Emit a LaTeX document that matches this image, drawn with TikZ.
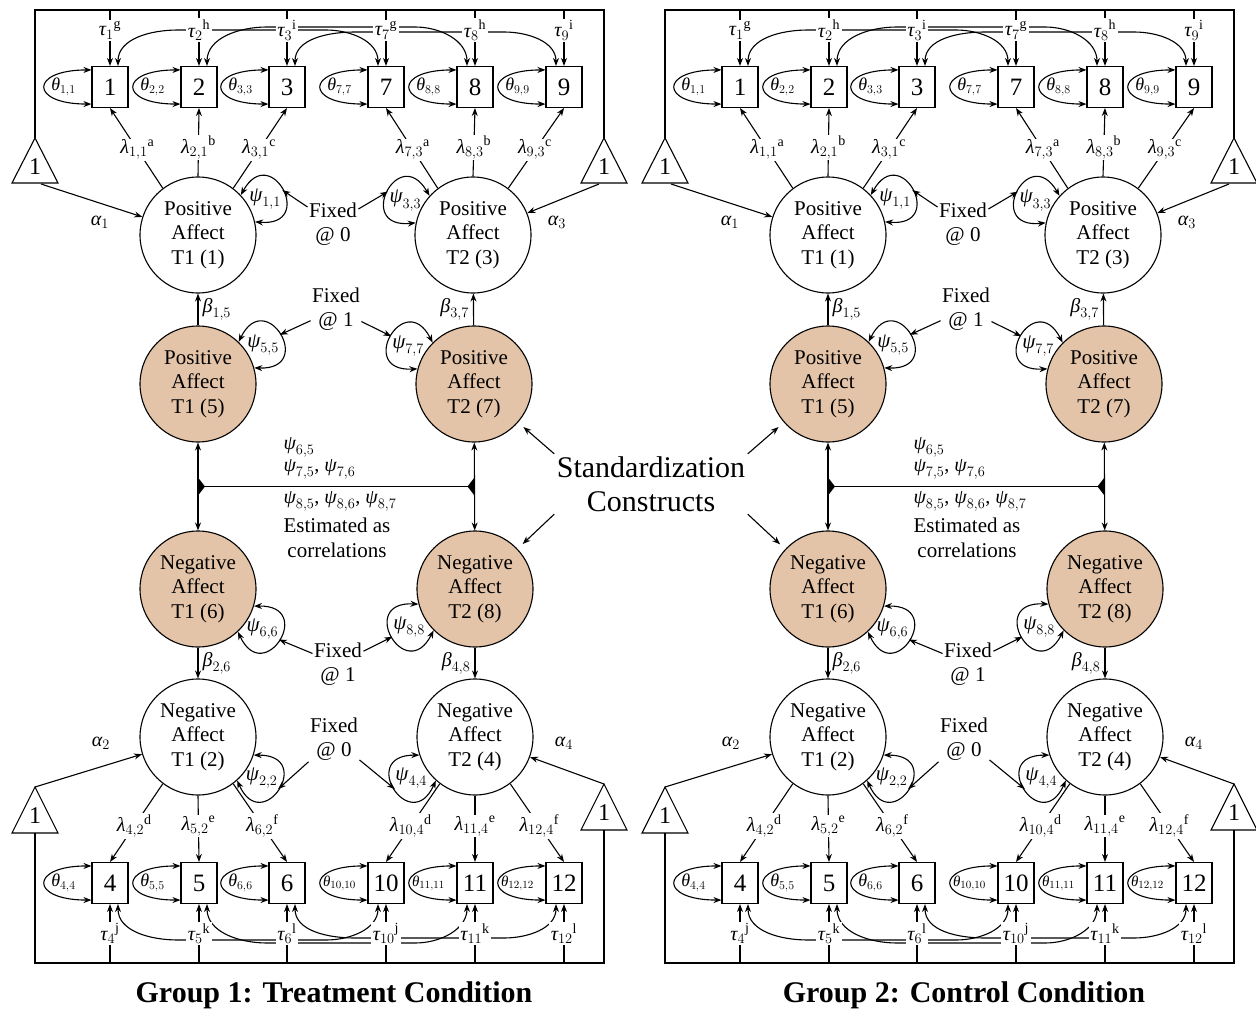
\documentclass[tikz,border=0pt]{standalone}
\usepackage{fontspec}
\setmainfont{Liberation Serif}
\usetikzlibrary{arrows.meta}
\definecolor{tanfill}{RGB}{228,196,168}
\newcommand\gk[1]{\mbox{\itshape #1}}
\tikzset{
  lat/.style={circle,draw,minimum size=116pt,inner sep=0pt,align=center,font=\fontsize{21}{24.5}\selectfont},
  ind/.style={draw,fill=white,minimum width=36pt,minimum height=41pt,inner sep=0pt,font=\fontsize{25}{25}\selectfont},
  lab/.style={inner sep=1pt,font=\fontsize{20}{20}\selectfont},
  wlab/.style={lab,fill=white},
  tau/.style={wlab,inner sep=1.5pt},
  thl/.style={inner sep=0pt,font=\fontsize{18}{18}\selectfont},
  thls/.style={inner sep=0pt,font=\fontsize{15}{15}\selectfont},
  psil/.style={inner sep=0pt,font=\fontsize{21}{21}\selectfont},
  fixtxt/.style={align=center,inner sep=1pt,font=\fontsize{21}{24.5}\selectfont},
  cor/.style={inner sep=1pt,font=\fontsize{20}{20}\selectfont},
  trinum/.style={inner sep=0pt,font=\fontsize{24}{24}\selectfont},
  grtitle/.style={font=\bfseries\fontsize{30}{30}\selectfont},
  stdtxt/.style={align=center,inner sep=2pt,font=\fontsize{30}{34}\selectfont},
}
% theta loop on the left of an indicator box
\newcommand\thloop[3][thl]{%
  \draw[<->] ([yshift=-4pt]#2.north west) .. controls +(-62,0) and +(-62,0) .. ([yshift=4pt]#2.south west);
  \node[#1] (#2th) at ([xshift=-28pt]#2.west) {#3};}
% psi loop on a latent circle
\newcommand\psiloop[4]{%
  \pgfmathtruncatemacro\plA{#2+15}\pgfmathtruncatemacro\plB{#2-15}%
  \pgfmathtruncatemacro\plC{#2+33}\pgfmathtruncatemacro\plD{#2-33}%
  \draw[<->] (#1.\plA) .. controls +(\plC:62) and +(\plD:62) .. (#1.\plB) coordinate[pos=0.5] (#4);
  \node[psil] (#4l) at ([shift={(#2:76)}]#1.center) {#3};}
\newcommand\sgroup[3]{%
\begin{scope}[xshift=#2]
  % latent variables
  \node[lat] (#1c1) at (198,-235) {Positive\\Affect\\T1 (1)};
  \node[lat] (#1c3) at (473,-235) {Positive\\Affect\\T2 (3)};
  \node[lat,fill=tanfill] (#1c5) at (198,-384) {Positive\\Affect\\T1 (5)};
  \node[lat,fill=tanfill] (#1c7) at (474,-384) {Positive\\Affect\\T2 (7)};
  \node[lat,fill=tanfill] (#1c6) at (198,-589) {Negative\\Affect\\T1 (6)};
  \node[lat,fill=tanfill] (#1c8) at (475,-589) {Negative\\Affect\\T2 (8)};
  \node[lat] (#1c2) at (198,-737) {Negative\\Affect\\T1 (2)};
  \node[lat] (#1c4) at (475,-737) {Negative\\Affect\\T2 (4)};
  % indicators
  \node[ind] (#1b1) at (110,-87) {1};
  \node[ind] (#1b2) at (199,-87) {2};
  \node[ind] (#1b3) at (287,-87) {3};
  \node[ind] (#1b7) at (386,-87) {7};
  \node[ind] (#1b8) at (475,-87) {8};
  \node[ind] (#1b9) at (564,-87) {9};
  \node[ind] (#1b4) at (110,-883) {4};
  \node[ind] (#1b5) at (199,-883) {5};
  \node[ind] (#1b6) at (287,-883) {6};
  \node[ind] (#1b10) at (386,-883) {10};
  \node[ind] (#1b11) at (475,-883) {11};
  \node[ind] (#1b12) at (564,-883) {12};
  % equality links between intercepts
  \draw[<->] ([xshift=8pt]#1b1.north) to[out=90,in=180] (178,-30) -- (326,-30) to[out=0,in=90] ([xshift=-8pt]#1b7.north);
  \draw[<->] ([xshift=8pt]#1b2.north) to[out=90,in=180] (267,-27) -- (415,-27) to[out=0,in=90] ([xshift=-8pt]#1b8.north);
  \draw[<->] ([xshift=8pt]#1b3.north) to[out=90,in=180] (355,-32) -- (504,-32) to[out=0,in=90] ([xshift=-8pt]#1b9.north);
  \draw[<->] ([xshift=8pt]#1b4.south) to[out=-90,in=180] (178,-940) -- (326,-940) to[out=0,in=-90] ([xshift=-8pt]#1b10.south);
  \draw[<->] ([xshift=8pt]#1b5.south) to[out=-90,in=180] (267,-943) -- (415,-943) to[out=0,in=-90] ([xshift=-8pt]#1b11.south);
  \draw[<->] ([xshift=8pt]#1b6.south) to[out=-90,in=180] (355,-938) -- (504,-938) to[out=0,in=-90] ([xshift=-8pt]#1b12.south);
  % frame and mean triangles
  \coordinate (#1tlA) at (35,-138);
  \coordinate (#1trA) at (604,-138);
  \coordinate (#1ftl) at (35,-10);
  \coordinate (#1ftr) at (604,-10);
  \draw (#1tlA) -- ++(-23,-45) -- ++(46,0) -- cycle;
  \node[trinum] (#1tri1) at (35,-167) {1};
  \draw (#1trA) -- ++(-23,-45) -- ++(46,0) -- cycle;
  \node[trinum] (#1tri3) at (604,-167) {1};
  \draw (#1tlA) -- (#1ftl) -- (#1ftr) -- (#1trA);
  \coordinate (#1blA) at (35,-787);
  \coordinate (#1brA) at (604,-784);
  \coordinate (#1blB) at (35,-833);
  \coordinate (#1brB) at (604,-830);
  \coordinate (#1fbl) at (35,-963);
  \coordinate (#1fbr) at (604,-963);
  \draw (#1blA) -- ++(-23,-46) -- ++(46,0) -- cycle;
  \node[trinum] (#1tri2) at (35,-816) {1};
  \draw (#1brA) -- ++(-23,-46) -- ++(46,0) -- cycle;
  \node[trinum] (#1tri4) at (604,-813) {1};
  \draw (#1blB) -- (#1fbl) -- (#1fbr) -- (#1brB);
  % intercepts
  \draw[->] (#1b1.north |- #1ftl) -- (#1b1.north) node[tau,pos=0.36] (#1t1) {$\gk{τ}_{1}{}^{\mathrm{g}}$};
  \draw[->] (#1b2.north |- #1ftl) -- (#1b2.north) node[tau,pos=0.36] (#1t2) {$\gk{τ}_{2}{}^{\mathrm{h}}$};
  \draw[->] (#1b3.north |- #1ftl) -- (#1b3.north) node[tau,pos=0.36] (#1t3) {$\gk{τ}_{3}{}^{\mathrm{i}}$};
  \draw[->] (#1b7.north |- #1ftl) -- (#1b7.north) node[tau,pos=0.36] (#1t7) {$\gk{τ}_{7}{}^{\mathrm{g}}$};
  \draw[->] (#1b8.north |- #1ftl) -- (#1b8.north) node[tau,pos=0.36] (#1t8) {$\gk{τ}_{8}{}^{\mathrm{h}}$};
  \draw[->] (#1b9.north |- #1ftl) -- (#1b9.north) node[tau,pos=0.36] (#1t9) {$\gk{τ}_{9}{}^{\mathrm{i}}$};
  \draw[->] (#1b4.south |- #1fbl) -- (#1b4.south) node[tau,pos=0.5] (#1t4) {$\gk{τ}_{4}{}^{\mathrm{j}}$};
  \draw[->] (#1b5.south |- #1fbl) -- (#1b5.south) node[tau,pos=0.5] (#1t5) {$\gk{τ}_{5}{}^{\mathrm{k}}$};
  \draw[->] (#1b6.south |- #1fbl) -- (#1b6.south) node[tau,pos=0.5] (#1t6) {$\gk{τ}_{6}{}^{\mathrm{l}}$};
  \draw[->] (#1b10.south |- #1fbl) -- (#1b10.south) node[tau,pos=0.5] (#1t10) {$\gk{τ}_{10}{}^{\mathrm{j}}$};
  \draw[->] (#1b11.south |- #1fbl) -- (#1b11.south) node[tau,pos=0.5] (#1t11) {$\gk{τ}_{11}{}^{\mathrm{k}}$};
  \draw[->] (#1b12.south |- #1fbl) -- (#1b12.south) node[tau,pos=0.5] (#1t12) {$\gk{τ}_{12}{}^{\mathrm{l}}$};
  % residual variances
  \thloop{#1b1}{$\gk{θ}_{1,1}$}
  \thloop{#1b2}{$\gk{θ}_{2,2}$}
  \thloop{#1b3}{$\gk{θ}_{3,3}$}
  \thloop{#1b7}{$\gk{θ}_{7,7}$}
  \thloop{#1b8}{$\gk{θ}_{8,8}$}
  \thloop{#1b9}{$\gk{θ}_{9,9}$}
  \thloop{#1b4}{$\gk{θ}_{4,4}$}
  \thloop{#1b5}{$\gk{θ}_{5,5}$}
  \thloop{#1b6}{$\gk{θ}_{6,6}$}
  \thloop[thls]{#1b10}{$\gk{θ}_{10,10}$}
  \thloop[thls]{#1b11}{$\gk{θ}_{11,11}$}
  \thloop[thls]{#1b12}{$\gk{θ}_{12,12}$}
  % loadings
  \draw[->] (#1c1.127) -- (#1b1.south) node[wlab,pos=0.48] (#1l1) {$\gk{λ}_{1,1}{}^{\mathrm{a}}$};
  \draw[->] (#1c1.north) -- (#1b2.south) node[wlab,pos=0.42] (#1l2) {$\gk{λ}_{2,1}{}^{\mathrm{b}}$};
  \draw[->] (#1c1.53) -- (#1b3.south) node[wlab,pos=0.48] (#1l3) {$\gk{λ}_{3,1}{}^{\mathrm{c}}$};
  \draw[->] (#1c3.127) -- (#1b7.south) node[wlab,pos=0.48] (#1l7) {$\gk{λ}_{7,3}{}^{\mathrm{a}}$};
  \draw[->] (#1c3.north) -- (#1b8.south) node[wlab,pos=0.42] (#1l8) {$\gk{λ}_{8,3}{}^{\mathrm{b}}$};
  \draw[->] (#1c3.53) -- (#1b9.south) node[wlab,pos=0.48] (#1l9) {$\gk{λ}_{9,3}{}^{\mathrm{c}}$};
  \draw[->] (#1c2.-127) -- (#1b4.north) node[wlab,pos=0.54] (#1l4) {$\gk{λ}_{4,2}{}^{\mathrm{d}}$};
  \draw[->] (#1c2.south) -- (#1b5.north) node[wlab,pos=0.46] (#1l5) {$\gk{λ}_{5,2}{}^{\mathrm{e}}$};
  \draw[->] (#1c2.-53) -- (#1b6.north) node[wlab,pos=0.54] (#1l6) {$\gk{λ}_{6,2}{}^{\mathrm{f}}$};
  \draw[->] (#1c4.-127) -- (#1b10.north) node[wlab,pos=0.54] (#1l10) {$\gk{λ}_{10,4}{}^{\mathrm{d}}$};
  \draw[->] (#1c4.south) -- (#1b11.north) node[wlab,pos=0.46] (#1l11) {$\gk{λ}_{11,4}{}^{\mathrm{e}}$};
  \draw[->] (#1c4.-53) -- (#1b12.north) node[wlab,pos=0.54] (#1l12) {$\gk{λ}_{12,4}{}^{\mathrm{f}}$};
  % means
  \coordinate (#1aS1) at (41,-184);
  \coordinate (#1aS3) at (599,-184);
  \draw[->] (#1aS1) -- (#1c1);
  \node[lab] (#1al1) at (100,-222) {$\gk{α}_1$};
  \draw[->] (#1aS3) -- (#1c3);
  \node[lab] (#1al3) at (557,-222) {$\gk{α}_3$};
  \draw[->] (#1blA) -- (#1c2);
  \node[lab] (#1al2) at (101,-743) {$\gk{α}_2$};
  \draw[->] (#1brA) -- (#1c4);
  \node[lab] (#1al4) at (564,-743) {$\gk{α}_4$};
  % regressions
  \draw[->] (#1c5) -- (#1c1) node[lab,pos=0.5,right=3pt] (#1be15) {$\gk{β}_{1,5}$};
  \draw[->] (#1c7) -- (#1c3) node[lab,pos=0.5,left=3pt] (#1be37) {$\gk{β}_{3,7}$};
  \draw[->] (#1c6) -- (#1c2) node[lab,pos=0.5,right=3pt] (#1be26) {$\gk{β}_{2,6}$};
  \draw[->] (#1c8) -- (#1c4) node[lab,pos=0.5,left=3pt] (#1be48) {$\gk{β}_{4,8}$};
  % latent variances
  \psiloop{#1c1}{28}{$\gk{ψ}_{1,1}$}{#1p1}
  \psiloop{#1c3}{153}{$\gk{ψ}_{3,3}$}{#1p3}
  \psiloop{#1c5}{31}{$\gk{ψ}_{5,5}$}{#1p5}
  \psiloop{#1c7}{150}{$\gk{ψ}_{7,7}$}{#1p7}
  \psiloop{#1c6}{-32}{$\gk{ψ}_{6,6}$}{#1p6}
  \psiloop{#1c8}{-150}{$\gk{ψ}_{8,8}$}{#1p8}
  \psiloop{#1c2}{-33}{$\gk{ψ}_{2,2}$}{#1p2}
  \psiloop{#1c4}{-147}{$\gk{ψ}_{4,4}$}{#1p4}
  % fixed constraints
  \node[fixtxt] (#1fx1) at (333,-224) {Fixed\\@ 0};
  \draw[->] (#1fx1) -- (#1p1);
  \draw[->] (#1fx1) -- (#1p3);
  \node[fixtxt] (#1fx2) at (336,-309) {Fixed\\@ 1};
  \draw[->] (#1fx2) -- (#1p5);
  \draw[->] (#1fx2) -- (#1p7);
  \node[fixtxt] (#1fx3) at (338,-664) {Fixed\\@ 1};
  \draw[->] (#1fx3) -- (#1p6);
  \draw[->] (#1fx3) -- (#1p8);
  \node[fixtxt] (#1fx4) at (334,-739) {Fixed\\@ 0};
  \draw[->] (#1fx4) -- (#1p2);
  \draw[->] (#1fx4) -- (#1p4);
  % correlations among standardization constructs
  \draw[<->] (#1c5) -- (#1c6) coordinate[pos=0.5] (#1jl);
  \draw[<->] (#1c7) -- (#1c8) coordinate[pos=0.5] (#1jr);
  \draw (#1jl) -- (#1jr);
  \fill ([yshift=9pt]#1jl) -- ([xshift=7pt]#1jl) -- ([yshift=-9pt]#1jl) -- cycle;
  \fill ([yshift=9pt]#1jr) -- ([xshift=-7pt]#1jr) -- ([yshift=-9pt]#1jr) -- cycle;
  \node[cor,anchor=west] (#1r1) at (282,-447) {$\gk{ψ}_{6,5}$};
  \node[cor,anchor=west] (#1r2) at (282,-469) {$\gk{ψ}_{7,5}$, $\gk{ψ}_{7,6}$};
  \node[cor,anchor=west] (#1r3) at (282,-501) {$\gk{ψ}_{8,5}$, $\gk{ψ}_{8,6}$, $\gk{ψ}_{8,7}$};
  \node[fixtxt] (#1r4) at (337,-538) {Estimated as\\correlations};
  % title
  \node[grtitle] (#1title) at (334,-995) {#3};
\end{scope}}
\begin{document}
\begin{tikzpicture}[x=1pt,y=1pt,line width=1.1pt,>={Stealth[length=8pt,width=6pt]}]
\useasboundingbox (0,0) rectangle (1256,-1014);
\sgroup{A}{0pt}{Group 1: Treatment Condition}
\sgroup{B}{630pt}{Group 2: Control Condition}
\node[stdtxt] (stdz) at (651,-484) {Standardization\\Constructs};
\draw[->,shorten >=7pt] (stdz.north west) -- (Ac7);
\draw[->,shorten >=7pt] (stdz.south west) -- (Ac8);
\draw[->,shorten >=7pt] (stdz.north east) -- (Bc5);
\draw[->,shorten >=7pt] (stdz.south east) -- (Bc6);
\end{tikzpicture}
\end{document}
